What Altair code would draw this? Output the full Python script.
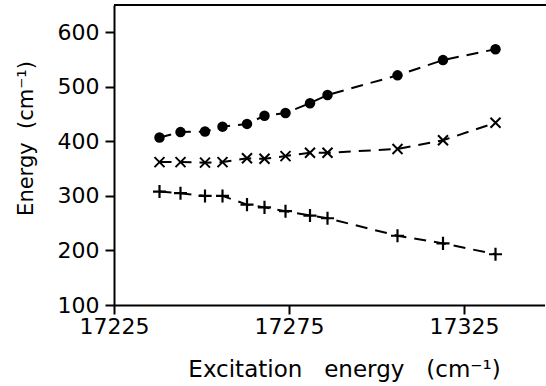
import altair as alt
import pandas as pd

excitation = [17238, 17244, 17251, 17256, 17263, 17268, 17274, 17281, 17286, 17306, 17319, 17334]
circle_energy = [407, 417, 418, 427, 432, 447, 452, 470, 485, 521, 549, 569]
cross_energy = [362, 362, 361, 362, 369, 368, 373, 379, 379, 386, 402, 434]
plus_energy = [308, 305, 300, 300, 284, 279, 272, 264, 259, 227, 213, 193]

x_ticks = [17225, 17275, 17325]
y_ticks = [100, 200, 300, 400, 500, 600]

rows = []
for name, vals in [("circle", circle_energy), ("cross", cross_energy), ("plus", plus_energy)]:
    for xv, yv in zip(excitation, vals):
        rows.append({"series": name, "excitation": xv, "energy": yv})
df = pd.DataFrame(rows)

NB = "\u00a0"
x_title = f"Excitation{NB*3}energy{NB*3}(cm\u207b\u00b9)"
y_title = f"Energy{NB*2}(cm\u207b\u00b9)"

W = 430.5
H = 300

x_enc = alt.X(
    "excitation:Q",
    scale=alt.Scale(domain=[17225, 17348], nice=False, zero=False),
    axis=alt.Axis(values=x_ticks, format="d", title=x_title, titleX=230, titleY=71,
                  titleAlign="center", titleBaseline="alphabetic", titleFontSize=23,
                  labelPadding=2, labelFlush=False),
)
y_enc = alt.Y(
    "energy:Q",
    scale=alt.Scale(domain=[100, 650], nice=False, zero=False),
    axis=alt.Axis(values=y_ticks, format="d", title=y_title, titleAngle=270, titleX=-82, titleY=133,
                  titleAlign="center", titleBaseline="alphabetic", titleFontSize=21,
                  labelPadding=6, labelFlush=False),
)

base = alt.Chart(df)

top_frame = alt.Chart(pd.DataFrame({"a": [0]})).mark_rule(color="black", strokeWidth=2).encode(
    x=alt.value(0), x2=alt.value(W + 2), y=alt.value(0)
)

lines = base.mark_line(color="black", strokeWidth=2, strokeDash=[12, 8]).encode(
    x=x_enc, y=y_enc, detail="series:N"
)
circles = base.transform_filter(alt.datum.series == "circle").mark_point(
    shape="circle", filled=True, size=110, color="black", opacity=1
).encode(x=x_enc, y=y_enc)
crosses = base.transform_filter(alt.datum.series == "cross").mark_point(
    shape="M-1,-1L1,1M-1,1L1,-1", filled=False, size=100, strokeWidth=2, color="black", opacity=1
).encode(x=x_enc, y=y_enc)
pluses = base.transform_filter(alt.datum.series == "plus").mark_point(
    shape="M-1,0L1,0M0,-1L0,1", filled=False, size=170, strokeWidth=2.2, color="black", opacity=1
).encode(x=x_enc, y=y_enc)

chart = alt.layer(lines, circles, crosses, pluses, top_frame).properties(
    width=W,
    height=H,
    autosize=alt.AutoSizeParams(type="none"),
    padding={"left": 114, "top": 5, "right": 1.5, "bottom": 81},
    background="white",
).configure_view(
    strokeWidth=0
).configure_axis(
    grid=False,
    domainColor="black",
    domainWidth=2,
    tickColor="black",
    tickWidth=2,
    tickSize=9,
    labelFont="DejaVu Sans",
    labelFontSize=22,
    labelColor="black",
    titleFont="DejaVu Sans",
    titleFontWeight="normal",
    titleColor="black",
)

chart.save("out.html", embed_options={"renderer": "svg", "actions": False})
